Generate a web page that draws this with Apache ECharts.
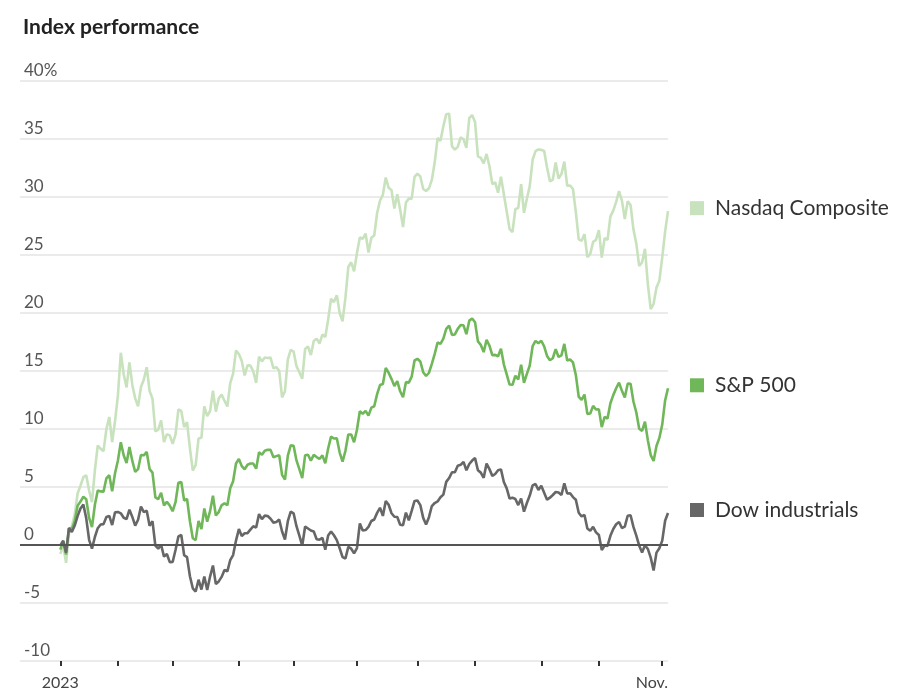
<!DOCTYPE html>
<html><head><meta charset="utf-8">
<script src="https://cdn.jsdelivr.net/npm/echarts@6/dist/echarts.min.js"></script>
<style>html,body{margin:0;padding:0;background:#fff}#c{width:903px;height:696px}</style>
</head><body><div id="c"></div>
<script>
// Trading days of 2023 (categories)
const monthNames = ['Jan','Feb','Mar','Apr','May','Jun','Jul','Aug','Sep','Oct','Nov'];
const janDays = [3,4,5,6,9,10,11,12,13,17,18,19,20,23,24,25,26,27,30,31];
const febDays = [1,2,3,6,7,8,9,10,13,14,15,16,17,21,22,23,24,27,28];
const marDays = [1,2,3,6,7,8,9,10,13,14,15,16,17,20,21,22,23,24,27,28,29,30,31];
const aprDays = [3,4,5,6,10,11,12,13,14,17,18,19,20,21,24,25,26,27,28];
const mayDays = [1,2,3,4,5,8,9,10,11,12,15,16,17,18,19,22,23,24,25,26,30,31];
const junDays = [1,2,5,6,7,8,9,12,13,14,15,16,20,21,22,23,26,27,28,29,30];
const julDays = [3,5,6,7,10,11,12,13,14,17,18,19,20,21,24,25,26,27,28,31];
const augDays = [1,2,3,4,7,8,9,10,11,14,15,16,17,18,21,22,23,24,25,28,29,30,31];
const sepDays = [1,5,6,7,8,11,12,13,14,15,18,19,20,21,22,25,26,27,28,29];
const octDays = [2,3,4,5,6,9,10,11,12,13,16,17,18,19,20,23,24,25,26,27,30,31];
const novDays = [1,2,3];
// late-December 2022 trading days shown as empty space left of the first point
const decPadDays = [9,12,13,14,15,16,19,20,21,22,23,27,28,29];

// Percent change since end of 2022
const nasdaq = [
 -0.76,-0.07,-1.54,0.98,1.62,2.64,4.44,5.11,5.85,6.01,4.69,3.69,6.44,8.58,8.29,8.09,9.99,11.04,8.86,10.68,
 12.90,16.57,14.72,13.58,15.74,13.80,12.64,11.96,13.62,14.27,15.33,13.27,12.62,9.80,9.94,10.74,8.87,9.56,9.45,
 8.72,9.52,11.68,11.55,10.16,10.60,8.33,6.42,6.90,9.19,9.25,11.95,11.12,11.55,13.31,11.50,12.62,12.97,12.44,11.94,13.95,14.78,16.77,
 16.46,15.86,14.62,15.49,15.46,14.96,13.98,16.24,15.83,16.16,16.12,16.15,15.22,15.34,15.01,12.73,13.26,16.01,16.82,
 16.68,15.42,14.89,14.33,16.90,17.11,16.37,17.58,17.79,17.37,18.14,17.93,19.43,21.23,20.94,21.54,20.00,19.28,21.32,23.97,24.37,23.59,
 25.17,26.51,26.40,26.85,25.21,26.49,26.68,28.62,29.68,30.19,31.68,30.79,30.58,29.01,30.23,28.91,27.41,29.52,29.86,29.86,31.73,
 32.01,31.77,30.69,30.52,30.75,31.47,32.99,35.08,34.85,36.10,37.14,37.18,34.37,34.08,34.32,35.14,34.98,34.24,36.79,37.07,
 36.47,33.50,33.37,32.89,33.71,32.65,31.11,31.26,30.37,31.74,30.24,28.74,27.23,26.98,28.96,29.04,31.10,28.64,29.85,30.94,33.22,33.95,34.10,
 34.06,33.96,32.54,31.36,31.48,32.98,31.60,31.98,33.05,30.97,30.99,30.69,28.69,26.35,26.23,26.80,24.81,25.09,26.13,26.30,
 27.14,24.77,26.46,26.31,28.33,28.83,29.58,30.51,29.69,28.10,29.63,29.31,27.21,25.98,24.05,24.38,25.54,22.50,20.34,20.79,22.19,22.79,
 24.79,27.02,28.78
];
const sp500 = [
 -0.40,0.35,-0.82,1.45,1.37,2.08,3.39,3.74,4.16,3.95,2.33,1.55,3.47,4.70,4.62,4.60,5.75,6.02,4.64,6.18,
 7.29,8.86,7.73,7.07,8.45,7.25,6.30,6.54,7.76,7.73,8.02,6.54,6.24,4.11,3.95,4.50,3.40,3.72,3.40,
 2.91,3.69,5.37,5.44,3.83,3.97,2.05,0.58,0.42,2.08,1.37,3.15,2.01,2.92,4.25,2.54,2.84,3.42,3.60,3.43,4.90,5.50,7.03,
 7.42,6.80,6.53,6.92,7.02,7.02,6.58,7.99,7.77,8.12,8.21,8.20,7.56,7.66,7.75,6.05,5.64,7.71,8.59,
 8.55,7.29,6.54,5.77,7.73,7.78,7.28,7.77,7.58,7.41,7.73,7.04,8.32,9.34,9.18,9.20,7.97,7.18,8.12,9.53,9.53,8.86,
 9.94,11.53,11.31,11.57,11.15,11.84,11.96,13.01,13.79,13.88,15.27,14.85,14.30,13.70,14.13,13.25,12.74,14.04,14.00,14.51,15.91,
 16.05,15.82,14.90,14.57,14.85,15.62,16.48,17.46,17.34,17.80,18.63,18.91,18.11,18.15,18.63,18.96,18.94,18.18,19.34,19.52,
 19.20,17.55,17.25,16.63,17.68,17.19,16.36,16.39,16.27,16.93,15.58,14.71,13.83,13.81,14.59,14.27,15.54,13.98,14.75,15.47,17.14,17.59,17.40,
 17.61,17.12,16.30,15.93,16.10,16.88,16.21,16.35,17.34,15.91,15.99,15.74,14.66,12.78,12.52,12.97,11.30,11.33,11.99,11.68,
 11.69,10.16,11.05,10.90,12.22,12.92,13.51,14.00,13.29,12.72,13.91,13.90,12.37,11.42,10.02,9.83,10.63,9.04,7.75,7.24,8.53,9.23,
 10.38,12.46,13.51
];
const dow = [
 -0.03,0.37,-0.66,1.46,1.12,1.68,2.49,3.14,3.48,2.30,0.45,-0.31,0.69,1.45,1.77,1.80,2.42,2.51,1.72,2.83,
 2.85,2.73,2.35,2.24,3.05,2.42,1.67,2.18,3.31,2.84,2.96,1.66,2.05,-0.05,-0.31,0.02,-1.00,-0.78,-1.48,
 -1.46,-0.43,0.74,0.86,-0.88,-1.05,-2.69,-3.73,-4.01,-2.99,-3.84,-2.72,-3.88,-2.72,-1.77,-3.37,-3.14,-2.75,-2.16,-2.27,-1.30,-0.87,0.38,
 1.37,0.77,1.01,1.02,1.32,1.62,1.50,2.66,2.23,2.53,2.50,2.26,1.93,1.99,2.20,1.16,0.47,2.05,2.87,
 2.73,1.62,0.81,-0.06,1.59,1.42,1.25,1.16,0.49,0.46,0.61,-0.41,0.82,1.17,0.84,0.42,-0.28,-1.05,-1.16,-0.16,-0.32,-0.72,
 -0.26,1.86,1.25,1.29,1.56,2.07,2.20,2.77,3.21,2.51,3.80,3.47,2.74,2.43,2.41,1.75,1.71,2.79,2.13,2.94,3.80,
 3.83,3.44,2.34,1.77,2.40,3.36,3.62,3.76,4.11,4.34,5.44,5.77,6.27,6.27,6.83,6.91,7.16,6.44,6.98,7.28,
 7.49,6.44,6.24,5.79,7.02,6.54,5.96,6.12,6.44,6.52,5.43,4.88,4.00,4.08,3.97,3.44,4.00,2.87,3.62,4.26,5.14,5.26,4.75,
 5.10,4.51,3.91,4.08,4.31,4.57,4.52,4.31,5.31,4.44,4.46,4.13,3.90,2.78,2.46,2.59,1.42,1.22,1.57,1.09,
 0.86,-0.44,-0.05,-0.08,0.79,1.38,1.79,1.98,1.46,1.58,2.52,2.56,1.56,0.81,-0.06,-0.64,-0.02,-0.34,-1.09,-2.20,-0.66,-0.28,
 0.38,2.09,2.76
];
const seriesNames = ['Nasdaq Composite','S&P 500','Dow industrials'];
const seriesColors = ['#c8e2bd','#70b75a','#676767'];
const xLabelFirst = '2023';
const xLabelLast = 'Nov.';

const monthDays = [janDays,febDays,marDays,aprDays,mayDays,junDays,julDays,augDays,sepDays,octDays,novDays];
const dates = decPadDays.map(d => 'Dec ' + d);
const pad = dates.length;
const monthStart = new Set();
monthDays.forEach((days, m) => {
  days.forEach((d, k) => { if (k === 0) monthStart.add(dates.length); dates.push(monthNames[m] + ' ' + d); });
});
const last = dates.length - 1;
const padNulls = decPadDays.map(() => null);
const FONT = 'Lato, "Noto Sans", sans-serif';

function mk(name, data, color) {
  return {
    name, type: 'line', data: padNulls.concat(data), showSymbol: false, symbol: 'none',
    lineStyle: { color, width: 2.6 }, itemStyle: { color },
    z: 3,
    endLabel: {
      show: true, distance: 22, offset: [0, -3],
      formatter: p => '{sq|}{t|' + p.seriesName + '}',
      rich: {
        sq: { width: 14, height: 14, backgroundColor: color },
        t: { fontSize: 21, color: '#333', padding: [0, 0, 0, 11], fontFamily: FONT }
      }
    }
  };
}

const chart = echarts.init(document.getElementById('c'));
const s = [mk(seriesNames[0], nasdaq, seriesColors[0]), mk(seriesNames[1], sp500, seriesColors[1]), mk(seriesNames[2], dow, seriesColors[2])];
s[0].markLine = { silent: true, symbol: ['none','none'], label: { show: false }, lineStyle: { color: '#555', width: 2, type: 'solid' }, data: [{ yAxis: 0 }] };
chart.setOption({
  animation: false,
  textStyle: { fontFamily: FONT },
  title: { text: 'Index performance', left: 18, top: 12, textStyle: { fontSize: 21, fontWeight: 'bold', color: '#222', fontFamily: FONT } },
  grid: { left: 20, right: 235, top: 81, bottom: 35, containLabel: false },
  xAxis: {
    type: 'category', data: dates, boundaryGap: false,
    axisLine: { show: false, onZero: false },
    axisTick: { show: true, interval: i => monthStart.has(i), length: 5, lineStyle: { color: '#333', width: 2 } },
    axisLabel: {
      interval: i => i === pad || i === last,
      formatter: (v, i) => i === pad ? xLabelFirst : xLabelLast,
      alignMaxLabel: 'right',
      color: '#444', fontSize: 16, margin: 14, fontFamily: FONT
    },
    splitLine: { show: false }
  },
  yAxis: {
    type: 'value', min: -10, max: 40, interval: 5,
    axisLine: { show: false }, axisTick: { show: false },
    axisLabel: {
      inside: true, align: 'left', verticalAlign: 'bottom', margin: 4, padding: [0, 0, 2, 0],
      formatter: v => v === 40 ? '40%' : String(v), color: '#555', fontSize: 17, fontFamily: FONT
    },
    splitLine: { lineStyle: { color: '#e4e4e4', width: 1.5 } }
  },
  series: s
});
</script></body></html>
